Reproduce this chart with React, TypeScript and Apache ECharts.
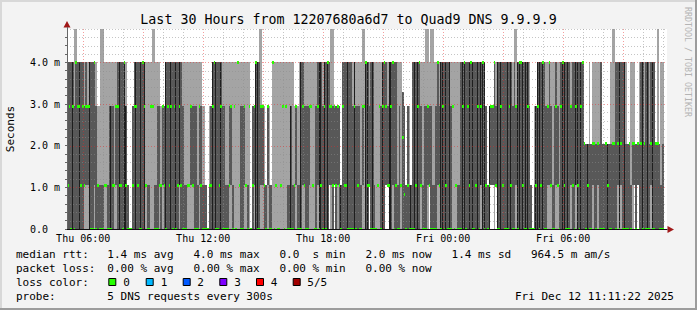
import React, { useEffect, useRef } from "react";
import * as echarts from "echarts";

// ---- data -----------------------------------------------------------
// Ping levels (ms) that the DNS timings fall on
const LEVELS = [0, 1.05, 2.95, 4.0, 5.2, 2.05, 2.2, 0.82, 3.3];

// Column type: 5 ping values (indices into LEVELS). Upper-case code = very dark core stripe.
const COLUMN_TYPES: Record<string, string> = {
  a: "00123", b: "01123", c: "00133", d: "01233", e: "00233", f: "01223",
  g: "00012", h: "00112", i: "00113", j: "00013", k: "01113", l: "00122",
  m: "00134", n: "00124", o: "00011", p: "01222", q: "00023", r: "00033",
  s: "01333", t: "00333", u: "00223", v: "00153", w: "01553", x: "00553",
  y: "00155", z: "01533", "!": "00533", "#": "00555", "$": "00053",
  "@": "00055", "|": "00554", "(": "11553", ")": "11555", "~": "00024",
  "`": "00334", "{": "01224", "}": "00034", ".": "00000", "+": "11123",
  "*": "11233", "^": "11222", "%": "00688", "&": "00722", "<": "00014",
  ">": "02224", ":": "02223", "]": "00003", "[": "03333",
};

// 5-minute steps, Thu 05:11 -> Fri 11:11
const STEPS_BLOCK_1 = "CerE~`eEcebdfErrsqhg<<kkjqQakfeCcrTAo..leEcrRtEkjj:><jqbhplR";
const STEPS_BLOCK_2 = "ecEreRcDcqjjkkfbqqjfaggo.hlEtRrcEqqjjbfj:][kqqfkj:.lpTR}{pho";
const STEPS_BLOCK_3 = "pgo[]k]]k:]:jjQjhpgjRdbqqf:k]qdRCqErT*{n^lplOeccRrrqEqaqj{>T";
const STEPS_BLOCK_4 = "C+rRj]k:qEt*+CEsrcjqk%&olgOrRcEtbjq~{+~<jqsbRErCrRq:]kjjrETr";
const STEPS_BLOCK_5 = "eCtRrcErDTRloL^^s+RrEcrrReCq}{RTtCrREqo.gLERcTrqfsbjqdbjeTCr";
const STEPS_BLOCK_6 = "RrfcrDCrEt#@Y$@wx$w$r@@#Y@$||rzRzrR$@#jw(@)$!RxrR$zRr#|@j$";

const START_MIN = 311.37; // minutes after Thu 00:00
const STEP_MIN = 5;
const SPAN_MIN = 1800;
const X_LABEL_TICKS = [360, 720, 1080, 1440, 1800];
const Y_LABEL_TICKS = [0, 1, 2, 3, 4];
const Y_MAX = 4.8;

const LEGEND_RTT = ["1.4 ms avg", "4.0 ms max", "0.0", "s min", "2.0 ms now", "1.4 ms sd", "964.5 m am/s"];
const LEGEND_LOSS = ["0.00 % avg", "0.00 % max", "0.00 % min", "0.00 % now"];
const LOSS_LABELS = ["0", "1", "2", "3", "4", "5/5"];
const LOSS_COLORS = ["#26ff00", "#00b8ff", "#0059ff", "#7e00ff", "#ff0000", "#a10000"];

// ---- styles ---------------------------------------------------------
const MONO = '"DejaVu Sans Mono", monospace';
const LIGHT = "#a4a4a4";
const DARK = "#585858";
const BLACK = "#1e1e1e";
const GREEN = "#26ff00";

function buildSmoke() {
  const codes = (STEPS_BLOCK_1 + STEPS_BLOCK_2 + STEPS_BLOCK_3 + STEPS_BLOCK_4 + STEPS_BLOCK_5 + STEPS_BLOCK_6).split("");
  return codes.map((ch, i) => {
    const lower = ch.toLowerCase();
    const black = ch !== lower ? 1 : 0;
    const type = COLUMN_TYPES[lower] || "00000";
    const vals = type.split("").map((d) => LEVELS[+d]).sort((a, b) => a - b);
    return [START_MIN + i * STEP_MIN, ...vals, black];
  });
}

function buildGrid() {
  const out: number[][] = [];
  for (let m = 360; m < START_MIN + SPAN_MIN; m += 60) out.push([m % 180 === 0 ? 1 : 0, m]);
  for (let k = 1; k <= 24; k++) {
    const v = k * 0.2;
    out.push([k % 5 === 0 ? 3 : 2, Math.round(v * 10) / 10]);
  }
  return out;
}

function fmtX(v: number) {
  const day = v < 1440 ? "Thu" : "Fri";
  const m = Math.round(v) % 1440;
  const h = Math.floor(m / 60);
  return `${day} ${String(h).padStart(2, "0")}:00`;
}

export default function App() {
  const ref = useRef<HTMLDivElement>(null);
  useEffect(() => {
    if (!ref.current) return;
    const chart = echarts.init(ref.current, undefined, { renderer: "svg", width: 697, height: 310 });
    const smoke = buildSmoke();
    const gridLines = buildGrid();

    const smokeRender = (_p: any, api: any) => {
      const t = api.value(0);
      const v = [1, 2, 3, 4, 5].map((k) => Math.min(api.value(k), Y_MAX));
      const black = api.value(6) === 1;
      const x0 = Math.round(api.coord([t, 0])[0]);
      const x1 = Math.round(api.coord([t + STEP_MIN, 0])[0]);
      const w = Math.max(1, x1 - x0);
      const yOf = (val: number) => Math.round(api.coord([t, val])[1]);
      const yBase = yOf(0);
      const children: any[] = [];
      if (v[4] > v[0]) {
        children.push({ type: "rect", shape: { x: x0, y: yOf(v[4]), width: w, height: yOf(v[0]) - yOf(v[4]) }, style: { fill: LIGHT } });
      }
      if (v[3] > v[1]) {
        const yt = yOf(v[3]);
        const h = yOf(v[1]) - yt;
        children.push({ type: "rect", shape: { x: x0, y: yt, width: w, height: h }, style: { fill: DARK } });
        if (black) children.push({ type: "rect", shape: { x: x0, y: yt, width: 1, height: h }, style: { fill: BLACK } });
      }
      const ym = api.coord([t, v[2]])[1];
      const top = Math.round(ym - 1.5);
      const bottom = Math.min(yBase, top + 3);
      children.push({ type: "rect", shape: { x: x0, y: top, width: w, height: bottom - top }, style: { fill: GREEN } });
      return { type: "group", children };
    };

    const gridRender = (params: any, api: any) => {
      const kind = api.value(0);
      const val = api.value(1);
      const cs = params.coordSys;
      const major = kind === 1 || kind === 3;
      const stroke = major ? "rgba(230,40,40,0.45)" : "rgba(140,140,140,0.5)";
      if (kind <= 1) {
        const x = Math.round(api.coord([val, 0])[0]) + 0.5;
        return { type: "line", shape: { x1: x, y1: cs.y, x2: x, y2: cs.y + cs.height }, style: { stroke, lineWidth: 1, lineDash: [1, 2] } };
      }
      const y = Math.round(api.coord([START_MIN, val])[1]) + 0.5;
      return { type: "line", shape: { x1: cs.x, y1: y, x2: cs.x + cs.width, y2: y }, style: { stroke, lineWidth: 1, lineDash: [1, 2] } };
    };

    const rowY = [254.5, 268.3, 282.3, 296];
    const txt = (text: string, x: number, y: number, extra: any = {}) => ({
      type: "text",
      x,
      y,
      style: { text, font: `11px ${MONO}`, fill: "#000", align: "left", verticalAlign: "middle", textAlign: "left", textVerticalAlign: "middle", ...extra },
    });
    const rttX = [107.3, 193.4, 279.4, 312.5, 365.5, 451.6, 531];
    const lossX = [107.3, 193.4, 279.4, 365.5];
    const boxX = [108.3, 145.7, 182.7, 219.3, 256, 292.7];
    const boxLabelX = [123.3, 160.7, 197.3, 234.3, 270.7, 307.3];

    const graphic: any[] = [
      // frame
      { type: "line", shape: { x1: 0, y1: 1, x2: 697, y2: 1 }, style: { stroke: "#d8d8d8", lineWidth: 2 } },
      { type: "line", shape: { x1: 1, y1: 0, x2: 1, y2: 310 }, style: { stroke: "#d8d8d8", lineWidth: 2 } },
      { type: "line", shape: { x1: 0, y1: 309, x2: 697, y2: 309 }, style: { stroke: "#9c9c9c", lineWidth: 2 } },
      { type: "line", shape: { x1: 696, y1: 0, x2: 696, y2: 310 }, style: { stroke: "#9c9c9c", lineWidth: 2 } },
      // title
      { type: "text", x: 348.5, y: 19, style: { text: "Last 30 Hours from 12207680a6d7 to Quad9 DNS 9.9.9.9", font: `13.3px ${MONO}`, fill: "#000", align: "center", verticalAlign: "middle", textAlign: "center", textVerticalAlign: "middle" } },
      // vertical label
      { type: "text", x: 10, y: 129, rotation: Math.PI / 2, style: { text: "Seconds", font: `11px ${MONO}`, fill: "#000", align: "center", verticalAlign: "middle", textAlign: "center", textVerticalAlign: "middle" } },
      // watermark
      { type: "text", x: 688, y: 62, rotation: -Math.PI / 2, style: { text: "RRDTOOL / TOBI OETIKER", font: `8.3px ${MONO}`, fill: "#b4b4b4", align: "center", verticalAlign: "middle", textAlign: "center", textVerticalAlign: "middle" } },
      // axis arrows
      { type: "polygon", shape: { points: [[67, 21], [70.5, 27.5], [63.5, 27.5]] }, style: { fill: "#a01818" } },
      { type: "line", shape: { x1: 67.5, y1: 27, x2: 67.5, y2: 29 }, style: { stroke: "#666", lineWidth: 1 } },
      { type: "polygon", shape: { points: [[674, 229.5], [667.5, 226], [667.5, 233]] }, style: { fill: "#a01818" } },
      // legend
      txt("median rtt:", 16, rowY[0]),
      ...LEGEND_RTT.map((s, i) => txt(s, rttX[i], rowY[0])),
      txt("packet loss:", 16, rowY[1]),
      ...LEGEND_LOSS.map((s, i) => txt(s, lossX[i], rowY[1])),
      txt("loss color:", 16, rowY[2]),
      ...LOSS_COLORS.map((c, i) => ({ type: "rect", shape: { x: boxX[i] + 0.5, y: 278.5, width: 7, height: 7 }, style: { fill: c, stroke: "#000", lineWidth: 1 } })),
      ...LOSS_LABELS.map((s, i) => txt(s, boxLabelX[i], rowY[2])),
      txt("probe:", 16, rowY[3]),
      txt("5 DNS requests every 300s", 107.3, rowY[3]),
      txt("Fri Dec 12 11:11:22 2025", 515, rowY[3]),
    ];

    chart.setOption({
      animation: false,
      backgroundColor: "#f3f3f3",
      grid: { left: 67, top: 29, width: 600, height: 200, show: true, backgroundColor: "#ffffff", borderWidth: 0, containLabel: false },
      xAxis: {
        type: "value",
        min: START_MIN,
        max: START_MIN + SPAN_MIN,
        z: 5,
        axisLine: { show: true, onZero: false, lineStyle: { color: "#111", width: 1 } },
        axisTick: { show: false, customValues: X_LABEL_TICKS },
        splitLine: { show: false },
        axisLabel: { customValues: X_LABEL_TICKS, formatter: fmtX, fontFamily: MONO, fontSize: 10, color: "#000", margin: 4 },
      },
      yAxis: {
        type: "value",
        min: 0,
        max: Y_MAX,
        z: 5,
        axisLine: { show: true, lineStyle: { color: "#666", width: 1 } },
        axisTick: { show: true, length: 2, lineStyle: { color: "#666" }, customValues: [0, 0.2, 0.4, 0.6, 0.8, 1, 1.2, 1.4, 1.6, 1.8, 2, 2.2, 2.4, 2.6, 2.8, 3, 3.2, 3.4, 3.6, 3.8, 4, 4.2, 4.4, 4.6] },
        splitLine: { show: false },
        axisLabel: {
          customValues: Y_LABEL_TICKS,
          formatter: (v: number) => (v === 0 ? "0.0" : `${v.toFixed(1)} m`),
          align: "left",
          margin: 37,
          fontFamily: MONO,
          fontSize: 10,
          color: "#000",
        },
      },
      series: [
        { type: "custom", renderItem: smokeRender, data: smoke, z: 2, silent: true, clip: false },
        { type: "custom", renderItem: gridRender, data: gridLines, z: 3, silent: true, clip: false },
      ],
      graphic,
    });
    return () => chart.dispose();
  }, []);
  return <div ref={ref} style={{ position: "fixed", left: 0, top: 0, width: 697, height: 310 }} />;
}
